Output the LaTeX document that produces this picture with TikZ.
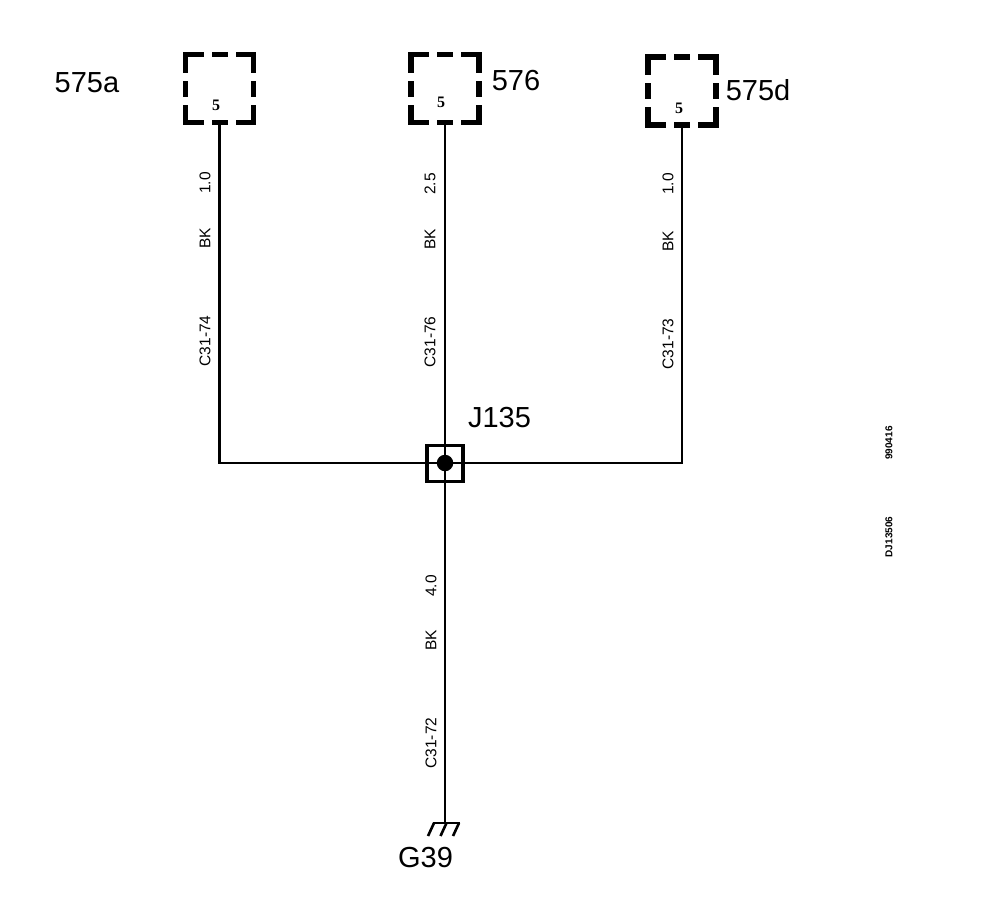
\documentclass[tikz,border=0pt]{standalone}
\usepackage{fontspec}
\setmainfont{Liberation Sans}
\newfontfamily\serifnum{Liberation Serif}
\tikzset{
  px/.style={x=1pt,y=-1pt},
  connbox/.style={draw=black,line width=5.5pt,minimum width=68pt,minimum height=68pt,inner sep=0pt,outer sep=0pt,line cap=rect,dash pattern=on 30.5pt off 13.5pt on 10.5pt off 13.5pt,dash phase=15.25pt},
  wire/.style={draw=black,line width=2.6pt},
  hwire/.style={draw=black,line width=2.2pt},
  wirelabel/.style={rotate=90,font=\fontsize{15.5}{16}\selectfont,inner sep=0pt},
  biglabel/.style={font=\fontsize{29}{30}\selectfont,inner sep=0pt},
  pinlabel/.style={font=\serifnum\bfseries\fontsize{16}{16}\selectfont,inner sep=0pt},
  tinylabel/.style={rotate=90,font=\fontsize{10}{10}\selectfont\bfseries,inner sep=0pt},
  junctionbox/.style={draw=black,line width=3.4pt,minimum width=36pt,minimum height=36pt,inner sep=0pt,outer sep=0pt},
  junctiondot/.style={circle,fill=black,minimum size=16.5pt,inner sep=0pt}
}
\begin{document}
\begin{tikzpicture}[px]
\useasboundingbox (0,0) rectangle (1008,910);
\node[connbox] (boxa) at (219.5,88.5) {};
\node[connbox] (boxb) at (445,88.5) {};
\node[connbox] (boxd) at (682,91) {};
\node[pinlabel] (pina) at (216,105) {5};
\node[pinlabel] (pinb) at (441,102) {5};
\node[pinlabel] (pind) at (679,108) {5};
\node[biglabel] (la) at (87,83) {575a};
\node[biglabel] (lb) at (516,81) {576};
\node[biglabel] (ld) at (758,90) {575d};
\node[junctionbox] (jbox) at (445,463.5) {};
\node[junctiondot] (jdot) at (445,463) {};
\coordinate (gnd) at (445,823);
\coordinate (turna) at (boxa.south |- jdot.center);
\coordinate (turnd) at (boxd.south |- jdot.center);
\draw[wire] (boxa.south) -- (turna);
\draw[wire] (boxb.south) -- (jdot.center);
\draw[wire,line width=2.2pt] (boxd.south) -- (turnd);
\draw[hwire,line cap=rect] (turna) -- (jdot.center) -- (turnd);
\draw[wire,line width=2.8pt] (jdot.center) -- (gnd);
\coordinate (b1) at (434,823);
\coordinate (b2) at (446.5,823);
\coordinate (b3) at (459,823);
\coordinate (t1) at (428,836);
\coordinate (t2) at (440.5,836);
\coordinate (t3) at (453,836);
\draw[wire,line cap=rect] (b1) -- (b3);
\draw[wire] (b1) -- (t1) (b2) -- (t2) (b3) -- (t3);
\node[biglabel] (j135) at (499.5,418) {J135};
\node[biglabel] (g39) at (425.5,858) {G39};
\node[wirelabel] (s1) at (205,183) {1.0};
\node[wirelabel] (c1) at (205,238) {BK};
\node[wirelabel] (w1) at (205,341) {C31-74};
\node[wirelabel] (s2) at (430,184) {2.5};
\node[wirelabel] (c2) at (430,239) {BK};
\node[wirelabel] (w2) at (430,342) {C31-76};
\node[wirelabel] (s3) at (668,184) {1.0};
\node[wirelabel] (c3) at (668,241) {BK};
\node[wirelabel] (w3) at (668,344) {C31-73};
\node[wirelabel] (s4) at (431,586) {4.0};
\node[wirelabel] (c4) at (431,640) {BK};
\node[wirelabel] (w4) at (431,743) {C31-72};
\node[tinylabel] (date) at (889,443) {990416};
\node[tinylabel] (ref) at (889,537) {DJ13506};
\end{tikzpicture}
\end{document}
